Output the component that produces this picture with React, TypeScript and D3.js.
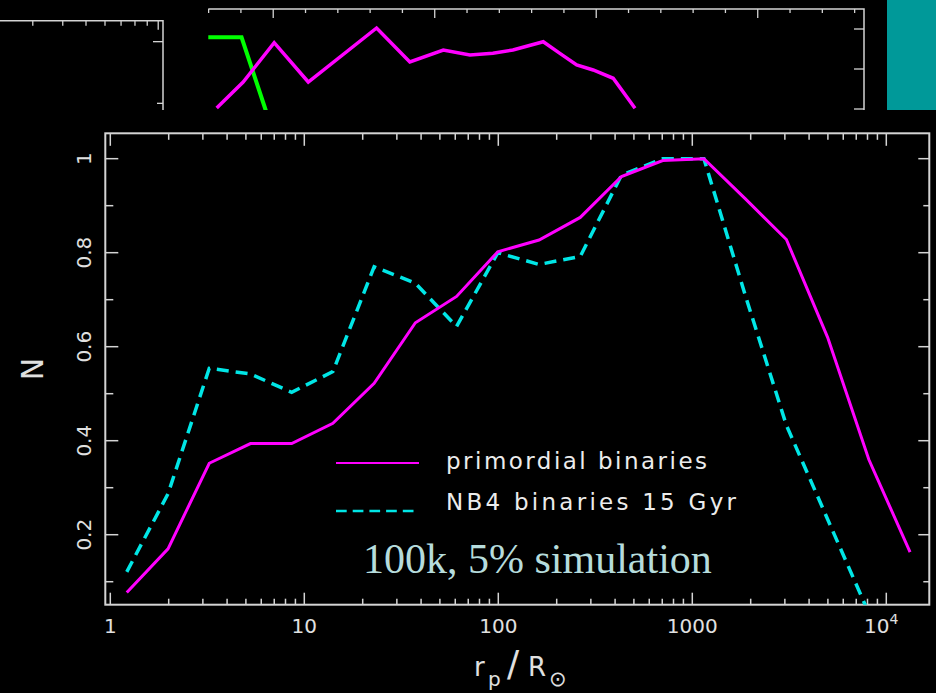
import React, { useRef, useEffect } from "react";
import * as d3 from "d3";

// main panel: bins of pericentre distance r_p / R_sun and normalised counts
const rpBins = [1.216, 1.984, 3.236, 5.278, 8.61, 14.04, 22.91, 37.37, 60.95, 99.43, 162.2, 264.5, 431.5, 703.9, 1148, 1873, 3055, 4983, 8128, 13260];
const primordial = [0.077, 0.17, 0.352, 0.394, 0.394, 0.437, 0.522, 0.651, 0.707, 0.802, 0.827, 0.875, 0.962, 0.996, 1.0, 0.915, 0.828, 0.62, 0.36, 0.163];
const nb4 = [0.121, 0.287, 0.554, 0.542, 0.503, 0.547, 0.77, 0.735, 0.643, 0.8, 0.775, 0.792, 0.965, 1.0, 1.0, 0.71, 0.433, 0.233, 0.033];
const yTickLabels = ["0.2", "0.4", "0.6", "0.8", "1"];
const xTickLabels = ["1", "10", "100", "1000", "10"];
const legendLabels = ["primordial binaries", "NB4 binaries 15 Gyr"];
const note = "100k, 5% simulation";

// strip at the top: pieces of two other panels, mostly hidden
const stripU = [0.65, 0.814, 1.006, 1.217, 1.64, 1.846, 2.053, 2.218, 2.36, 2.484, 2.672, 2.775, 2.879, 2.981, 3.105, 3.24];
const stripMagenta = [0.0125, 0.3375, 0.829, 0.3375, 1.0125, 0.5875, 0.7375, 0.675, 0.696, 0.7375, 0.841, 0.696, 0.55, 0.4875, 0.384, 0.009];
const greenU = [0.598, 0.804, 0.949, 0.983];
const greenV = [0.896, 0.896, 0.0125, -0.2];

const W = 936;
const H = 693;

const App = () => {
  const ref = useRef(null);

  const draw = (elt) => {
    d3.select(elt).select("svg").remove();
    const svg = d3.select(elt).append("svg")
      .attr("width", W).attr("height", H)
      .style("display", "block")
      .style("background", "#000");

    const axisCol = "#d4d4d4";
    const font = "'DejaVu Sans', sans-serif";

    // ---------- top strip ----------
    svg.append("clipPath").attr("id", "stripClip")
      .append("rect").attr("x", 0).attr("y", 0).attr("width", W).attr("height", 110);
    const strip = svg.append("g").attr("clip-path", "url(#stripClip)");

    // left panel (only its top-right corner shows)
    const xl = d3.scaleLog().domain([2.19, 10.47]).range([0, 163]);
    const yl = d3.scaleLinear().domain([0, 1.17]).range([165, 20.7]);
    strip.append("path")
      .attr("d", `M${xl.range()[0]},${yl(1.17)}H${xl.range()[1]}V${yl(0)}`)
      .attr("fill", "none").attr("stroke", axisCol).attr("stroke-width", 1.5);
    xl.ticks().forEach(v => {
      const major = Math.abs(Math.log10(v) - Math.round(Math.log10(v))) < 1e-6;
      strip.append("line").attr("x1", xl(v)).attr("x2", xl(v))
        .attr("y1", yl(1.17)).attr("y2", yl(1.17) + (major ? 9 : 5))
        .attr("stroke", axisCol).attr("stroke-width", 1.3);
    });
    [1, 0.5].forEach((v, i) => {
      strip.append("line").attr("x1", 163).attr("x2", 163 - (i === 0 ? 10 : 6))
        .attr("y1", yl(v)).attr("y2", yl(v))
        .attr("stroke", axisCol).attr("stroke-width", 1.3);
    });

    // middle panel
    const xs = d3.scaleLinear().domain([0.598, 4.658]).range([208.3, 864]);
    const ys = d3.scaleLinear().domain([0, 1.25]).range([109, 9]);
    strip.append("path")
      .attr("d", `M${xs(0.598)},${ys(1.25)}H${xs(4.658)}V${ys(-0.2)}`)
      .attr("fill", "none").attr("stroke", axisCol).attr("stroke-width", 1.5);
    xs.ticks(20).forEach(v => {
      const major = Math.abs(v - Math.round(v)) < 1e-6;
      strip.append("line").attr("x1", xs(v)).attr("x2", xs(v))
        .attr("y1", ys(1.25)).attr("y2", ys(1.25) + (major ? 9 : 4))
        .attr("stroke", axisCol).attr("stroke-width", 1.3);
    });
    [1, 0.5, 0].forEach(v => {
      strip.append("line").attr("x1", 864).attr("x2", 854)
        .attr("y1", ys(v)).attr("y2", ys(v))
        .attr("stroke", axisCol).attr("stroke-width", 1.3);
    });
    const sLine = d3.line().x(d => xs(d[0])).y(d => ys(d[1]));
    strip.append("path")
      .attr("d", sLine(greenU.map((u, i) => [u, greenV[i]])))
      .attr("fill", "none").attr("stroke", "#00ff00").attr("stroke-width", 4);
    strip.append("path")
      .attr("d", sLine(stripU.map((u, i) => [u, stripMagenta[i]])))
      .attr("fill", "none").attr("stroke", "#ff00ff").attr("stroke-width", 3.5);

    // teal block at the right
    strip.append("rect").attr("x", 887).attr("y", 0).attr("width", 49).attr("height", 110)
      .attr("fill", "#009999");

    // ---------- main panel ----------
    const x = d3.scaleLog().domain([0.9424, 16660]).range([105.3, 929.3]);
    const y = d3.scaleLinear().domain([0.0511, 1.054]).range([604.7, 133.3]);
    const [x0, x1] = x.range();
    const [y0, y1] = y.range();

    svg.append("clipPath").attr("id", "plotClip")
      .append("rect").attr("x", x0).attr("y", y1).attr("width", x1 - x0).attr("height", y0 - y1);

    const g = svg.append("g");
    g.append("rect").attr("x", x0).attr("y", y1).attr("width", x1 - x0).attr("height", y0 - y1)
      .attr("fill", "none").attr("stroke", axisCol).attr("stroke-width", 2);

    // x ticks, bottom and top
    x.ticks().forEach(v => {
      const major = Math.abs(Math.log10(v) - Math.round(Math.log10(v))) < 1e-6;
      const len = major ? 12 : 6;
      g.append("line").attr("x1", x(v)).attr("x2", x(v)).attr("y1", y0).attr("y2", y0 - len)
        .attr("stroke", axisCol).attr("stroke-width", 1.5);
      g.append("line").attr("x1", x(v)).attr("x2", x(v)).attr("y1", y1).attr("y2", y1 + len + 0.5)
        .attr("stroke", axisCol).attr("stroke-width", 1.5);
    });
    // y ticks, left and right
    y.ticks(10).forEach(v => {
      const major = Math.round(v * 10) % 2 === 0;
      g.append("line").attr("x1", x0).attr("x2", x0 + (major ? 13 : 8)).attr("y1", y(v)).attr("y2", y(v))
        .attr("stroke", axisCol).attr("stroke-width", 1.5);
      g.append("line").attr("x1", x1).attr("x2", x1 - (major ? 11 : 6)).attr("y1", y(v)).attr("y2", y(v))
        .attr("stroke", axisCol).attr("stroke-width", 1.5);
    });

    // tick labels
    const xMajor = x.ticks().filter(v => Math.abs(Math.log10(v) - Math.round(Math.log10(v))) < 1e-6);
    xMajor.forEach((v, i) => {
      const t = g.append("text").attr("x", x(v) + (v === 10000 ? -5 : 0)).attr("y", 633)
        .attr("text-anchor", "middle").attr("font-family", font).attr("font-size", 20)
        .attr("fill", "#e0e0e0").text(xTickLabels[i]);
      if (v === 10000) {
        t.append("tspan").attr("dy", -9).attr("font-size", 14).text("4");
      }
    });
    y.ticks(5).filter(v => Math.round(v * 10) % 2 === 0).forEach((v, i) => {
      g.append("text").attr("transform", `translate(91,${y(v)}) rotate(-90)`)
        .attr("text-anchor", "middle").attr("font-family", font).attr("font-size", 20)
        .attr("fill", "#e0e0e0").text(yTickLabels[i]);
    });

    // axis titles
    g.append("text").attr("transform", `translate(43,369) rotate(-90)`)
      .attr("text-anchor", "middle").attr("font-family", font).attr("font-size", 30)
      .attr("fill", "#e0e0e0").text("N");
    const xt = g.append("text").attr("y", 676)
      .attr("font-family", font).attr("font-size", 26).attr("fill", "#e0e0e0");
    xt.append("tspan").attr("x", 474).text("r");
    xt.append("tspan").attr("x", 488).attr("dy", 10).attr("font-size", 20).text("p");
    xt.append("tspan").attr("x", 507).attr("dy", -10).attr("font-size", 36).text("/");
    xt.append("tspan").attr("x", 528).attr("font-size", 26).text("R");
    xt.append("tspan").attr("x", 549).attr("dy", 10).attr("font-size", 21).text("\u2299");

    // curves
    const line = d3.line().x(d => x(d[0])).y(d => y(d[1]));
    const plot = g.append("g").attr("clip-path", "url(#plotClip)");
    plot.append("path")
      .attr("d", line(nb4.map((v, i) => [rpBins[i], v])))
      .attr("fill", "none").attr("stroke", "#00e6e6").attr("stroke-width", 3.5)
      .attr("stroke-dasharray", "12,7");
    plot.append("path")
      .attr("d", line(primordial.map((v, i) => [rpBins[i], v])))
      .attr("fill", "none").attr("stroke", "#ff00ff").attr("stroke-width", 3);

    // legend
    g.append("line").attr("x1", 336).attr("x2", 419).attr("y1", 463).attr("y2", 463)
      .attr("stroke", "#ff00ff").attr("stroke-width", 2);
    g.append("line").attr("x1", 336).attr("x2", 414).attr("y1", 511).attr("y2", 511)
      .attr("stroke", "#00e6e6").attr("stroke-width", 2.5).attr("stroke-dasharray", "10.7,6");
    g.append("text").attr("x", 446).attr("y", 469).attr("font-family", font).attr("font-size", 23)
      .attr("textLength", 261).attr("lengthAdjust", "spacing")
      .attr("fill", "#ececec").text(legendLabels[0]);
    g.append("text").attr("x", 446).attr("y", 510).attr("font-family", font).attr("font-size", 23)
      .attr("textLength", 290).attr("lengthAdjust", "spacing")
      .attr("fill", "#ececec").text(legendLabels[1]);

    g.append("text").attr("x", 363).attr("y", 573)
      .attr("font-family", "'Liberation Serif', 'Times New Roman', serif").attr("font-size", 42)
      .attr("fill", "#b6dcdc").text(note);
  };

  useEffect(() => {
    document.body.style.margin = "0";
    document.body.style.background = "#000";
    if (ref.current) {
      draw(ref.current);
    }
  }, []);

  return <div ref={ref} style={{ width: W, height: H }}></div>;
};

export default App;
